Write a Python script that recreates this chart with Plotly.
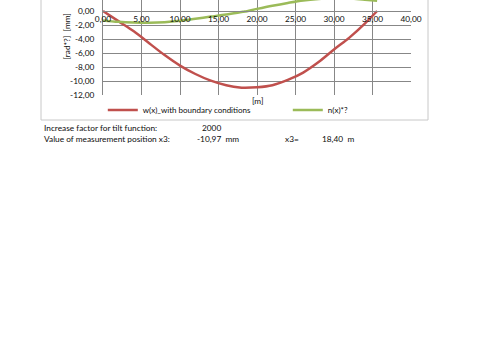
import plotly.graph_objects as go

# ---- data ----
x_m = [0, 2, 4, 6, 8, 10, 12, 14, 16, 18, 18.4, 20, 22, 24, 26, 28, 30, 32, 34, 35.6]
w_mm = [0, -1.45, -2.9, -4.6, -6.3, -7.8, -9.0, -9.95, -10.6, -10.95, -10.97, -10.9,
        -10.6, -9.85, -8.8, -7.3, -5.5, -3.8, -1.8, 0]
n_tilt = [-1.35, -1.55, -1.65, -1.68, -1.6, -1.4, -1.1, -0.8, -0.5, -0.15, -0.08, 0.3,
          0.75, 1.15, 1.5, 1.72, 1.85, 1.8, 1.6, 1.45]

x_ticks = [0, 5, 10, 15, 20, 25, 30, 35, 40]
x_tick_text = ["0,00", "5,00", "10,00", "15,00", "20,00", "25,00", "30,00", "35,00", "40,00"]
y_ticks = [0, -2, -4, -6, -8, -10, -12]
y_tick_text = ["0,00", "-2,00", "-4,00", "-6,00", "-8,00", "-10,00", "-12,00"]

series_names = ["w(x)_with boundary conditions", "n(x)*?"]
info_rows = [
    ("Increase factor for tilt function:", "2000", "", ""),
    ("Value of measurement position x3:", "-10,97  mm", "x3=", "18,40  m"),
]

FONT = "Lato"
TXT = "#0d0d0d"
GRID = "#878787"
FS = 8.3

W, H = 480, 360
L, R = 103, 411      # plot area pixel x
T, B = 0, 95         # plot area pixel y

def px(xp):
    return (xp - L) / (R - L)

def py(yp):
    return (B - yp) / (B - T)

fig = go.Figure()
fig.add_trace(go.Scatter(x=x_m, y=w_mm, mode="lines", name=series_names[0],
                         line=dict(color="#c0504d", width=2.5, shape="spline")))
fig.add_trace(go.Scatter(x=x_m, y=n_tilt, mode="lines", name=series_names[1],
                         line=dict(color="#9bbb59", width=2.5, shape="spline")))

fig.update_layout(
    width=W, height=H,
    margin=dict(l=L, r=W - R, t=T, b=H - B, pad=0),
    paper_bgcolor="white", plot_bgcolor="white",
    font=dict(family=FONT, size=FS, color=TXT),
    showlegend=True,
    legend=dict(orientation="h", x=px(102.8), y=py(110), xanchor="left", yanchor="middle",
                entrywidth=140, entrywidthmode="pixels",
                font=dict(family=FONT, size=8, color=TXT), bgcolor="rgba(0,0,0,0)"),
    xaxis=dict(range=[0, 40], tickvals=x_ticks, ticktext=x_tick_text,
               showgrid=True, gridcolor=GRID, gridwidth=1,
               anchor="free", position=py(11),
               showline=True, linecolor=GRID, linewidth=1,
               ticks="", zeroline=False, tickfont=dict(size=FS)),
    yaxis=dict(range=[-12, 11 / 7], tickvals=y_ticks, ticktext=y_tick_text,
               showgrid=True, gridcolor=GRID, gridwidth=1,
               showline=True, linecolor=GRID, linewidth=1,
               ticks="", zeroline=False, ticklabelstandoff=6, tickfont=dict(size=FS)),
)

ann = []
ann.append(dict(text="[rad*?]  [mm]", x=px(66), y=py(36.5), xref="paper", yref="paper",
                xanchor="center", yanchor="middle",
                textangle=-90, showarrow=False, font=dict(size=FS)))
ann.append(dict(text="[m]", x=px(257), y=py(101), xref="paper", yref="paper",
                xanchor="center", yanchor="middle", showarrow=False, font=dict(size=FS)))
row_y = [128, 139]
for (lab, val, lab2, val2), yy in zip(info_rows, row_y):
    ann.append(dict(text=lab, x=px(42), y=py(yy), xref="paper", yref="paper",
                    xanchor="left", yanchor="middle", showarrow=False, font=dict(size=FS)))
    vx = 200 if lab2 == "" else 195
    ann.append(dict(text=val, x=px(vx), y=py(yy), xref="paper", yref="paper",
                    xanchor="left", yanchor="middle", showarrow=False, font=dict(size=FS)))
    if lab2:
        ann.append(dict(text=lab2, x=px(283), y=py(yy), xref="paper", yref="paper",
                        xanchor="left", yanchor="middle", showarrow=False, font=dict(size=FS)))
        ann.append(dict(text=val2, x=px(320), y=py(yy), xref="paper", yref="paper",
                        xanchor="left", yanchor="middle", showarrow=False, font=dict(size=FS)))
fig.update_layout(annotations=ann)

fig.add_shape(type="rect", xref="paper", yref="paper",
              x0=px(41), x1=px(428), y0=py(120), y1=py(-5),
              line=dict(color="#c8c8c8", width=1), fillcolor="rgba(0,0,0,0)", layer="below")

fig.write_html("out.html", config={"displayModeBar": False},
               post_script="document.body.style.margin='0';")
